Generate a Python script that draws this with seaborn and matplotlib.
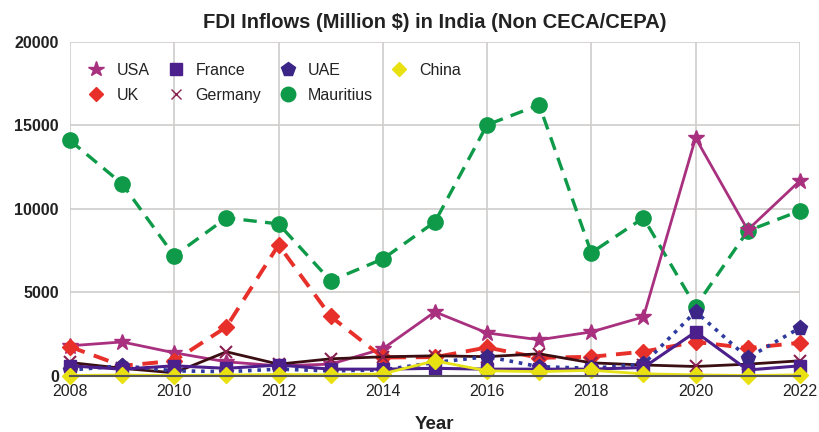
import matplotlib
matplotlib.use("Agg")
import matplotlib.pyplot as plt
import seaborn as sns
import pandas as pd

years = list(range(2008, 2023))
usa = [1800, 2030, 1380, 840, 600, 700, 1620, 3830, 2570, 2160, 2630, 3530, 14250, 8740, 11680]
uk = [1740, 600, 900, 2930, 7840, 3560, 1100, 1120, 1700, 1080, 1140, 1450, 2030, 1660, 1980]
france = [600, 400, 600, 450, 650, 400, 400, 450, 400, 400, 400, 500, 2630, 350, 600]
germany = [800, 450, 180, 1440, 700, 1020, 1140, 1200, 1150, 1320, 780, 650, 560, 700, 900]
uae = [350, 600, 300, 250, 400, 300, 350, 800, 1150, 550, 450, 700, 3850, 1080, 2870]
mauritius = [14100, 11500, 7190, 9460, 9100, 5690, 7000, 9220, 15030, 16230, 7370, 9460, 4150, 8680, 9880]
china = [20, 50, 20, 50, 80, 60, 120, 900, 300, 250, 330, 120, 60, 20, 60]

series = ["USA", "UK", "France", "Germany", "UAE", "Mauritius", "China"]
values = [usa, uk, france, germany, uae, mauritius, china]

styles = {
    "USA": dict(color="#A8307F", marker="*", linestyle="-", lw=2.0, ms=12),
    "UK": dict(color="#E8302A", marker="D", linestyle=(0, (4, 2.5)), lw=2.8, ms=8),
    "France": dict(color="#4B1F8C", marker="s", linestyle="-", lw=2.2, ms=9),
    "Germany": dict(color="#3A0E12", marker="x", linestyle="-", lw=2.0, ms=8, mec="#8A2050"),
    "UAE": dict(color="#2E3A9E", marker="p", linestyle=(0, (1, 1.6)), lw=2.6, ms=11, mfc="#3B2688", mec="#3B2688"),
    "Mauritius": dict(color="#0E9A48", marker="o", linestyle=(0, (4, 2.5)), lw=2.4, ms=11),
    "China": dict(color="#E6E21A", marker="D", linestyle="-", lw=2.0, ms=8, mfc="#E8E010", mec="#E8E010"),
}

sns.set_style("white")
plt.rcParams['font.family'] = ['Liberation Sans', 'DejaVu Sans']

fig = plt.figure(figsize=(8.2, 4.32), dpi=100)
ax = fig.add_axes([0.0854, 0.130, 0.890, 0.773])

draw_order = ["Mauritius", "USA", "UK", "Germany", "UAE", "France", "China"]
for name in draw_order:
    df = pd.DataFrame({"Year": years, "Value": values[series.index(name)]})
    st = styles[name]
    before = len(ax.lines)
    sns.lineplot(data=df, x="Year", y="Value", ax=ax, color=st["color"],
                 marker=st["marker"], markersize=st["ms"], linewidth=st["lw"],
                 markerfacecolor=st.get("mfc", st["color"]),
                 markeredgecolor=st.get("mec", st["color"]),
                 markeredgewidth=1.5 if name == "Germany" else 1.0,
                 clip_on=False, label=name)
    ax.lines[before].set_linestyle(st["linestyle"])

ax.set_xlim(2008, 2022)
ax.set_ylim(0, 20000)
ax.set_xticks(range(2008, 2023, 2))
ax.set_yticks(range(0, 20001, 5000))
ax.grid(True, color="#d0cccc", linewidth=1.2)
for s in ["top", "right", "left"]:
    ax.spines[s].set_visible(False)
ax.spines["bottom"].set_color("#555555")
ax.spines["bottom"].set_linewidth(1.5)
ax.tick_params(axis="y", length=6, color="#bbbbbb", labelsize=11.5, pad=2)
for lbl in ax.get_yticklabels():
    lbl.set_fontweight("bold")
    lbl.set_color("#222222")
ax.tick_params(axis="x", length=0, labelsize=11.5, pad=6)
for lbl in ax.get_xticklabels():
    lbl.set_color("#222222")
ax.set_xlabel("Year", fontsize=13.5, fontweight="bold", color="#222222", labelpad=12)
ax.set_ylabel("")
ax.set_title("FDI Inflows (Million $) in India (Non CECA/CEPA)", fontsize=14.5,
             fontweight="bold", color="#222222", pad=10)

leg_handles = []
for name in series:
    st = styles[name]
    h = plt.Line2D([], [], linestyle="none", marker=st["marker"], markersize=st["ms"] * 0.95,
                   color=st["color"], markerfacecolor=st.get("mfc", st["color"]),
                   markeredgecolor=st.get("mec", st["color"]))
    leg_handles.append(h)
leg = ax.legend(leg_handles, series, ncol=4, loc="upper left", bbox_to_anchor=(0.0, 0.98),
                frameon=False, fontsize=11.5, handlelength=1.5, columnspacing=0.9,
                labelspacing=0.6, handletextpad=0.5)
for t in leg.get_texts():
    t.set_color("#222222")

fig.savefig("out.png", dpi=100)
